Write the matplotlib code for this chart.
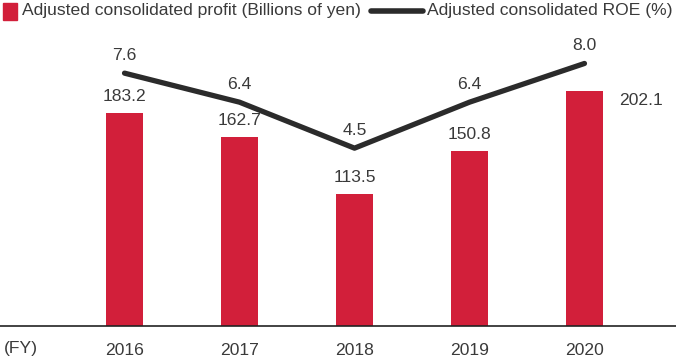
import numpy as np
import matplotlib.pyplot as plt
from matplotlib.patches import Rectangle
from matplotlib.lines import Line2D

years = ['2016', '2017', '2018', '2019', '2020']
profit = [183.2, 162.7, 113.5, 150.8, 202.1]
roe = [7.6, 6.4, 4.5, 6.4, 8.0]

bar_color = '#d21f3a'
line_color = '#2b2b2b'
text_color = '#3a3a3a'
fs = 12.6
plt.rcParams['font.family'] = ['Liberation Sans', 'DejaVu Sans']

fig = plt.figure(figsize=(6.76, 3.6), dpi=100)
W, H = 676, 360


def fx(px):
    return px / W


def fy(py):
    return 1 - py / H


ax = fig.add_axes([0, fy(326), 1, (326 - 40) / H])
x = np.arange(len(years))
ax.bar(x, profit, width=0.32, color=bar_color, zorder=2)
ax.set_xlim(-1.083, 4.796)
ax.set_ylim(0, 245.9)
for s in ['top', 'right', 'left']:
    ax.spines[s].set_visible(False)
ax.spines['bottom'].set_color('#222222')
ax.spines['bottom'].set_linewidth(1.2)
ax.set_yticks([])
ax.set_xticks(x)
ax.set_xticklabels(years, fontsize=fs, color=text_color)
ax.tick_params(axis='x', length=0, pad=12)

for i, v in enumerate(profit):
    if i == len(profit) - 1:
        ax.text(i + 0.49, v - 8, f'{v:.1f}', ha='center', va='center',
                fontsize=fs, color=text_color)
    else:
        ax.text(i, v + 14, f'{v:.1f}', ha='center', va='center',
                fontsize=fs, color=text_color)

ax2 = ax.twinx()
ax2.set_ylim(-2.85, 8.97)
ax2.plot(x, roe, color=line_color, lw=3.8, solid_capstyle='round',
         solid_joinstyle='round', zorder=3)
ax2.set_yticks([])
for s in ['top', 'right', 'left', 'bottom']:
    ax2.spines[s].set_visible(False)
for i, v in enumerate(roe):
    ax2.text(i, v + 0.75, f'{v:.1f}', ha='center', va='center',
             fontsize=fs, color=text_color)

fig.text(fx(21), fy(349), '(FY)', ha='center', va='center',
         fontsize=fs, color=text_color)

# legend
fig.add_artist(Rectangle((fx(3), fy(20)), 14 / W, 17 / H,
                         transform=fig.transFigure, color=bar_color))
fig.text(fx(22), fy(11), 'Adjusted consolidated profit (Billions of yen)',
         ha='left', va='center', fontsize=fs, color=text_color)
fig.add_artist(Line2D([fx(371), fx(423)], [fy(11), fy(11)],
                      transform=fig.transFigure, color=line_color, lw=4,
                      solid_capstyle='round'))
fig.text(fx(427), fy(11), 'Adjusted consolidated ROE (%)',
         ha='left', va='center', fontsize=fs, color=text_color)

fig.savefig('out.png', dpi=100)
